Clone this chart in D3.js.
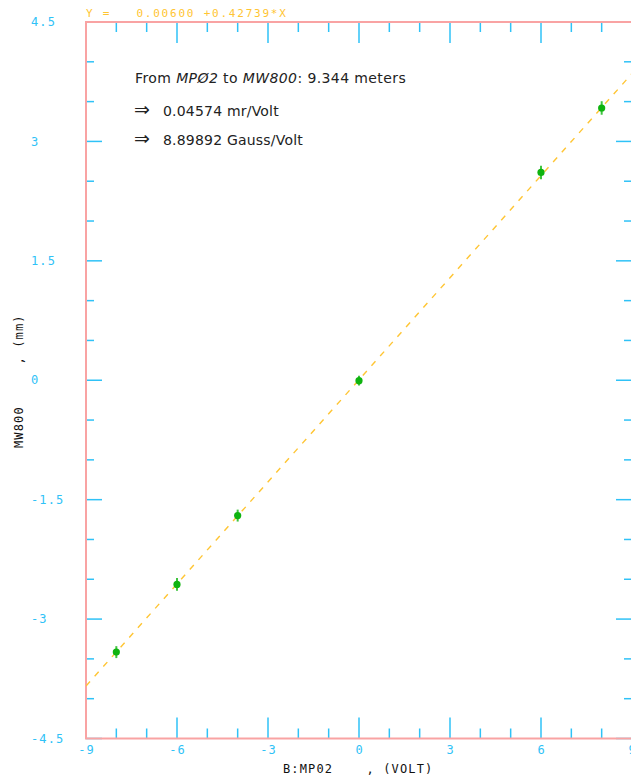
<!DOCTYPE html>
<html>
<head>
<meta charset="utf-8">
<script src="https://cdn.jsdelivr.net/npm/d3@7"></script>
<style>
  html, body { margin: 0; padding: 0; background: #fff; }
  svg { display: block; }
  .mono { font-family: "DejaVu Sans Mono", monospace; font-size: 12px; letter-spacing: 1.13px; font-variant-numeric: slashed-zero; white-space: pre; }
</style>
</head>
<body>
<svg id="chart" width="631" height="778"></svg>
<script>
// Beam position at MW800 versus MP02 steering voltage
const volts = [-8, -6, -4, 0, 6, 8];
const mm = [-3.415, -2.565, -1.70, -0.005, 2.61, 3.42];
const mmErr = [0.075, 0.08, 0.075, 0.06, 0.085, 0.085];

// Linear fit  Y = a + b*X
const fitIntercept = 0.00600;
const fitSlope = 0.42739;

const xTickValues = [-9, -8, -7, -6, -5, -4, -3, -2, -1, 0, 1, 2, 3, 4, 5, 6, 7, 8, 9];
const xMajorTicks = [-9, -6, -3, 0, 3, 6, 9];
const yTickValues = d3.range(-4.5, 4.51, 0.5);
const yMajorTicks = [-4.5, -3, -1.5, 0, 1.5, 3, 4.5];

const headerText = "Y =   0.00600 +0.42739*X";
const xTitle = "B:MP02    , (VOLT)";
const yTitle = "MW800     , (mm)";

const svg = d3.select("#chart");
const plotLeft = 86, plotRight = 632, plotTop = 22, plotBottom = 738.5;

const x = d3.scaleLinear().domain([-9, 9]).range([plotLeft, plotRight]);
const y = d3.scaleLinear().domain([-4.5, 4.5]).range([plotBottom, plotTop]);

const frameColor = "#f9a3a3";
const tickColor = "#2fc2f7";
const fitColor = "#ffc533";
const pointColor = "#0fb30f";

const isMajorX = v => xMajorTicks.includes(v);
const isMajorY = v => yMajorTicks.some(m => Math.abs(m - v) < 1e-6);

// Clip region for the fit line
svg.append("defs").append("clipPath").attr("id", "plotClip")
  .append("rect").attr("x", plotLeft).attr("y", plotTop)
  .attr("width", plotRight - plotLeft).attr("height", plotBottom - plotTop);

// Ticks on all four sides, pointing inward
const tg = svg.append("g").attr("stroke", tickColor).attr("stroke-width", 1.5);
xTickValues.forEach(v => {
  const len = isMajorX(v) ? 21 : 10;
  tg.append("line").attr("x1", x(v)).attr("x2", x(v)).attr("y1", plotTop).attr("y2", plotTop + len);
  tg.append("line").attr("x1", x(v)).attr("x2", x(v)).attr("y1", plotBottom).attr("y2", plotBottom - len);
});
yTickValues.forEach(v => {
  const len = isMajorY(v) ? 16 : 8;
  tg.append("line").attr("x1", plotLeft).attr("x2", plotLeft + len).attr("y1", y(v)).attr("y2", y(v));
  tg.append("line").attr("x1", plotRight).attr("x2", plotRight - len).attr("y1", y(v)).attr("y2", y(v));
});

// Frame
svg.append("rect").attr("x", plotLeft).attr("y", plotTop)
  .attr("width", plotRight - plotLeft).attr("height", plotBottom - plotTop)
  .attr("fill", "none").attr("stroke", frameColor).attr("stroke-width", 2);

// Tick labels
svg.append("g").selectAll("text").data(xMajorTicks).join("text")
  .attr("class", "mono")
  .attr("x", d => x(d) + 0.6)
  .attr("y", 750)
  .attr("dy", "0.35em")
  .attr("text-anchor", "middle")
  .attr("fill", tickColor)
  .text(d => String(d));

svg.append("g").selectAll("text").data(yMajorTicks).join("text")
  .attr("class", "mono")
  .attr("x", 31)
  .attr("y", d => y(d))
  .attr("dy", "0.35em")
  .attr("fill", tickColor)
  .text(d => String(d));

// Axis titles
svg.append("text").attr("class", "mono")
  .attr("x", 283).attr("y", 769).attr("dy", "0.35em")
  .attr("fill", "#111").text(xTitle);

svg.append("text").attr("class", "mono")
  .attr("transform", "translate(19,448) rotate(-90)")
  .attr("dy", "0.35em")
  .attr("fill", "#111").text(yTitle);

// Fit equation header
svg.append("text").attr("class", "mono")
  .attr("x", 86).attr("y", 13.5).attr("dy", "0.35em")
  .style("font-size", "11px").style("letter-spacing", "1.78px")
  .attr("fill", fitColor).text(headerText);

// Fit line
svg.append("line")
  .attr("clip-path", "url(#plotClip)")
  .attr("x1", x(-9)).attr("y1", y(fitIntercept + fitSlope * -9))
  .attr("x2", x(9)).attr("y2", y(fitIntercept + fitSlope * 9))
  .attr("stroke", fitColor).attr("stroke-width", 1.4)
  .attr("stroke-dasharray", "6,7");

// Data points with error bars
const pts = svg.append("g");
volts.forEach((v, i) => {
  pts.append("line")
    .attr("x1", x(v)).attr("x2", x(v))
    .attr("y1", y(mm[i] - mmErr[i])).attr("y2", y(mm[i] + mmErr[i]))
    .attr("stroke", "#3fc43f").attr("stroke-width", 2);
  pts.append("circle")
    .attr("cx", x(v)).attr("cy", y(mm[i])).attr("r", 3.6)
    .attr("fill", pointColor);
});

// Annotation
const ann = svg.append("g")
  .style("font-family", "'DejaVu Sans', sans-serif")
  .style("font-size", "14px")
  .attr("fill", "#222");
const l1 = ann.append("text").attr("x", 135).attr("y", 83).style("letter-spacing", "0.4px");
l1.append("tspan").text("From ");
l1.append("tspan").style("font-style", "italic").text("MPØ2");
l1.append("tspan").text(" to ");
l1.append("tspan").style("font-style", "italic").text("MW800");
l1.append("tspan").text(": 9.344 meters");

const arrowLines = [
  { yPos: 115.5, text: "0.04574 mr/Volt" },
  { yPos: 145, text: "8.89892 Gauss/Volt" }
];
arrowLines.forEach(d => {
  ann.append("text").attr("x", 134).attr("y", d.yPos)
    .style("font-size", "19px").text("⇒");
  ann.append("text").attr("x", 163).attr("y", d.yPos)
    .style("letter-spacing", "0.2px").text(d.text);
});
</script>
</body>
</html>
